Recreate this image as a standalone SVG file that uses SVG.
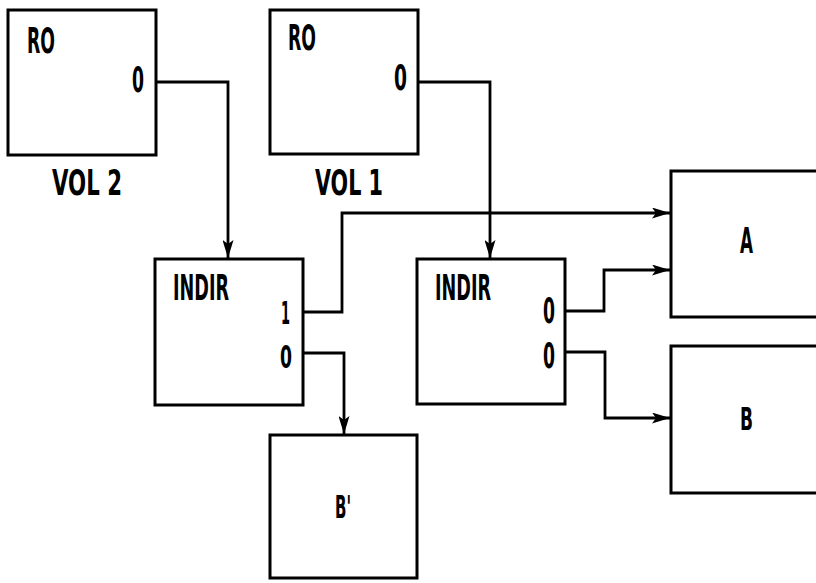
<svg xmlns="http://www.w3.org/2000/svg" width="816" height="583" viewBox="0 0 816 583">
<style>
.box{fill:#fff;stroke:#000;stroke-width:3}
.t{font-family:"DejaVu Sans Condensed","DejaVu Sans",sans-serif;font-weight:bold;font-size:36px;fill:#000}
.s{font-size:32px}
.c{fill:none;stroke:#000;stroke-width:2.8}
</style>
<defs>
<marker id="ah" viewBox="0 0 18 11" refX="18" refY="5.5" markerWidth="18" markerHeight="11" markerUnits="userSpaceOnUse" orient="auto">
<path d="M0,0 L18,5.5 L0,11 L4,5.5 Z" fill="#000"/>
</marker>
</defs>
<g id="vol2">
<rect class="box" x="8" y="10" width="148" height="145"/>
<text class="t" x="27" y="53" textLength="28" lengthAdjust="spacingAndGlyphs">RO</text>
<text class="t" x="132" y="92" textLength="12" lengthAdjust="spacingAndGlyphs">0</text>
<text class="t" x="52" y="195" textLength="70" lengthAdjust="spacingAndGlyphs">VOL 2</text>
</g>
<g id="vol1">
<rect class="box" x="270" y="10" width="148" height="144"/>
<text class="t" x="288" y="50" textLength="28" lengthAdjust="spacingAndGlyphs">RO</text>
<text class="t" x="394" y="90" textLength="13" lengthAdjust="spacingAndGlyphs">0</text>
<text class="t" x="315" y="195" textLength="68" lengthAdjust="spacingAndGlyphs">VOL 1</text>
</g>
<g id="indir1">
<rect class="box" x="155" y="259" width="148" height="146"/>
<text class="t" x="173" y="300" textLength="56" lengthAdjust="spacingAndGlyphs">INDIR</text>
<text class="t s" x="281" y="324" textLength="9" lengthAdjust="spacingAndGlyphs">1</text>
<text class="t s" x="280" y="368" textLength="12" lengthAdjust="spacingAndGlyphs">0</text>
</g>
<g id="indir2">
<rect class="box" x="417" y="259" width="148" height="145"/>
<text class="t" x="435" y="300" textLength="56" lengthAdjust="spacingAndGlyphs">INDIR</text>
<text class="t" x="543" y="323" textLength="12" lengthAdjust="spacingAndGlyphs">0</text>
<text class="t" x="543" y="368" textLength="12" lengthAdjust="spacingAndGlyphs">0</text>
</g>
<g id="A">
<rect class="box" x="671" y="171" width="150" height="146"/>
<text class="t" x="740" y="253" textLength="13" lengthAdjust="spacingAndGlyphs">A</text>
</g>
<g id="B">
<rect class="box" x="671" y="346" width="150" height="147"/>
<text class="t s" x="740" y="430" textLength="13" lengthAdjust="spacingAndGlyphs">B</text>
</g>
<g id="Bprime">
<rect class="box" x="270" y="435" width="147" height="143"/>
<text class="t s" x="335" y="518" textLength="16" lengthAdjust="spacingAndGlyphs">B'</text>
</g>
<g id="connectors">
<path class="c" d="M156,82 H228 V258" marker-end="url(#ah)"/>
<path class="c" d="M418,82 H490 V258" marker-end="url(#ah)"/>
<path class="c" d="M303,312 H342 V213 H670" marker-end="url(#ah)"/>
<path class="c" d="M303,353 H344 V434" marker-end="url(#ah)"/>
<path class="c" d="M565,311 H604 V270 H670" marker-end="url(#ah)"/>
<path class="c" d="M565,352 H605 V418 H670" marker-end="url(#ah)"/>
</g>
</svg>
